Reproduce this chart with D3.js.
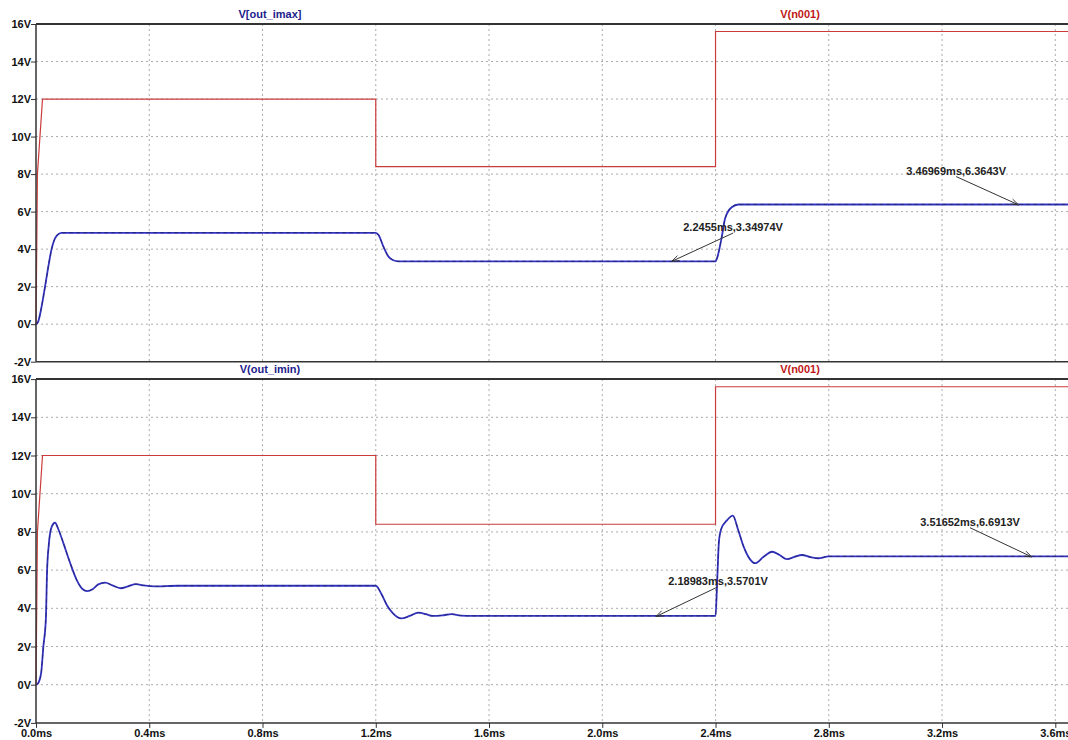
<!DOCTYPE html>
<html>
<head>
<meta charset="utf-8">
<script src="https://cdn.jsdelivr.net/npm/d3@7"></script>
<style>
  body { margin: 0; background: #fff; }
  svg { display: block; }
  text { font-family: "Liberation Sans", Arial, sans-serif; font-weight: bold; font-size: 11px; fill: #111; }
  .grid line { stroke: #ababab; stroke-width: 1; stroke-dasharray: 2,3; }
  .frame { stroke: #333; stroke-width: 1.5; }
  .trace-red { fill: none; stroke: #cc3b3b; stroke-width: 1.2; }
  .trace-blue { fill: none; stroke: #3434c4; stroke-width: 1.8; }
  .trace-blue-dark { fill: none; stroke: #1d1d55; stroke-width: 0.9; stroke-dasharray: 4,3; opacity: 0.7; }
  .ann-line { stroke: #333; stroke-width: 1; fill: none; }
</style>
</head>
<body>
<div class="chart"></div>
<script>
// ticks
let xTicks = [0.0, 0.4, 0.8, 1.2, 1.6, 2.0, 2.4, 2.8, 3.2, 3.6];
let xTickLabels = ["0.0ms", "0.4ms", "0.8ms", "1.2ms", "1.6ms", "2.0ms", "2.4ms", "2.8ms", "3.2ms", "3.6ms"];
let yTicks = [-2, 0, 2, 4, 6, 8, 10, 12, 14, 16];
let yTickLabels = ["-2V", "0V", "2V", "4V", "6V", "8V", "10V", "12V", "14V", "16V"];

// V(n001) - same source in both panes (time in ms, volts)
let n001T = [0, 0.005, 0.014, 0.023, 1.2, 1.2, 2.4, 2.4, 3.65];
let n001V = [0, 8.0, 10.0, 12.0, 12.0, 8.4, 8.4, 15.6, 15.6];

// V(out_imax)
let imaxT = [0, 0.008, 0.018, 0.032, 0.045, 0.055, 0.065, 0.075, 0.09, 1.2, 1.21, 1.227, 1.245, 1.26, 1.28,
             2.4, 2.405, 2.42, 2.434, 2.457, 2.481, 3.65];
let imaxV = [0, 0.15, 0.8, 2.0, 3.2, 4.0, 4.5, 4.75, 4.87, 4.87, 4.75, 4.13, 3.6, 3.42, 3.35,
             3.35, 3.5, 4.49, 5.64, 6.23, 6.38, 6.38];

// V(out_imin)
let iminT = [0, 0.006, 0.018, 0.026, 0.035, 0.039, 0.045, 0.055, 0.067, 0.08, 0.097, 0.12, 0.144, 0.165, 0.181,
             0.2, 0.22, 0.244, 0.27, 0.299, 0.325, 0.353, 0.38, 0.42, 0.5, 1.2,
             1.22, 1.24, 1.26, 1.29, 1.32, 1.35, 1.38, 1.4, 1.435, 1.468, 1.5, 1.55, 2.4,
             2.406, 2.412, 2.42, 2.44, 2.461, 2.48, 2.5, 2.52, 2.54, 2.57, 2.6, 2.625, 2.652, 2.68, 2.705,
             2.735, 2.763, 2.8, 3.65];
let iminV = [0, 0.05, 0.6, 2.0, 3.5, 5.9, 7.3, 8.25, 8.48, 8.1, 7.4, 6.4, 5.48, 5.0, 4.9,
             5.0, 5.25, 5.34, 5.2, 5.05, 5.15, 5.27, 5.2, 5.15, 5.18, 5.18,
             4.75, 4.15, 3.75, 3.47, 3.6, 3.77, 3.68, 3.6, 3.63, 3.7, 3.62, 3.6, 3.6,
             5.5, 7.5, 8.15, 8.6, 8.85, 8.1, 7.2, 6.6, 6.36, 6.7, 6.96, 6.8, 6.57, 6.7, 6.79,
             6.68, 6.62, 6.72, 6.72];

// cursor annotations: data point (ms, V) and label anchor (ms, V)
let annImax = [
  {t: 2.2455, v: 3.34974, lt: 2.462, lv: 4.91, text: "2.2455ms,3.34974V"},
  {t: 3.46969, v: 6.3643, lt: 3.250, lv: 7.92, text: "3.46969ms,6.3643V"}
];
let annImin = [
  {t: 2.18983, v: 3.5701, lt: 2.409, lv: 5.18, text: "2.18983ms,3.5701V"},
  {t: 3.51652, v: 6.6913, lt: 3.299, lv: 8.27, text: "3.51652ms,6.6913V"}
];

let width = 1068, height = 740;

let svg = d3.select(".chart")
  .append("svg")
  .attr("width", width)
  .attr("height", height);

let xScale = d3.scaleLinear().domain([0, 3.6]).range([36, 1055.3]);

function zip(ts, vs) {
  return ts.map((t, i) => ({t: t, v: vs[i]}));
}

function draw_pane(top, bottom, blueT, blueV, blueName, anns, showX) {
  let yScale = d3.scaleLinear().domain([-2, 16]).range([bottom, top]);
  let g = svg.append("g");

  // grid
  let grid = g.append("g").attr("class", "grid");
  grid.selectAll(".vg")
    .data(xTicks.slice(1))
    .enter().append("line")
    .attr("x1", d => xScale(d)).attr("x2", d => xScale(d))
    .attr("y1", top).attr("y2", bottom);
  grid.selectAll(".hg")
    .data(yTicks.slice(1, -1))
    .enter().append("line")
    .attr("x1", xScale(0)).attr("x2", width)
    .attr("y1", d => yScale(d)).attr("y2", d => yScale(d));

  // traces
  let lineRed = d3.line().x(d => xScale(d.t)).y(d => yScale(d.v));
  let lineBlue = d3.line().x(d => xScale(d.t)).y(d => yScale(d.v)).curve(d3.curveMonotoneX);

  g.append("path").attr("class", "trace-red").attr("d", lineRed(zip(n001T, n001V)));
  g.append("path").attr("class", "trace-blue").attr("d", lineBlue(zip(blueT, blueV)));
  g.append("path").attr("class", "trace-blue-dark").attr("d", lineBlue(zip(blueT, blueV)));

  // frame
  g.append("line").attr("class", "frame").style("stroke-width", 2)
    .attr("x1", xScale(0)).attr("x2", width).attr("y1", top).attr("y2", top);
  g.append("line").attr("class", "frame")
    .attr("x1", xScale(0)).attr("x2", width).attr("y1", bottom).attr("y2", bottom);
  g.append("line").attr("class", "frame")
    .attr("x1", xScale(0)).attr("x2", xScale(0)).attr("y1", top).attr("y2", bottom);

  // y axis
  let yAxis = d3.axisLeft(yScale)
    .tickValues(yTicks)
    .tickSize(5)
    .tickSizeOuter(0)
    .tickFormat((d, i) => yTickLabels[i]);
  let ya = g.append("g").attr("transform", `translate(${xScale(0)},0)`).call(yAxis);
  ya.select(".domain").remove();
  ya.selectAll(".tick line").attr("stroke", "#333");
  ya.selectAll(".tick text").attr("x", -5).attr("fill", "#111")
    .style("font-size", "11px").style("font-family", "Liberation Sans, Arial, sans-serif");

  // x axis
  if (showX) {
    let xAxis = d3.axisBottom(xScale)
      .tickValues(xTicks)
      .tickSize(5)
      .tickSizeOuter(0)
      .tickFormat((d, i) => xTickLabels[i]);
    let xa = g.append("g").attr("transform", `translate(0,${bottom})`).call(xAxis);
    xa.select(".domain").remove();
    xa.selectAll(".tick line").attr("stroke", "#333");
    xa.selectAll(".tick text").attr("y", 6).attr("fill", "#111")
      .style("font-size", "11px").style("font-family", "Liberation Sans, Arial, sans-serif");
  }

  // titles
  g.append("text")
    .attr("x", 270).attr("y", top - 6)
    .attr("text-anchor", "middle")
    .style("fill", "#1c1c8c")
    .text(blueName);
  g.append("text")
    .attr("x", 800).attr("y", top - 6)
    .attr("text-anchor", "middle")
    .style("fill", "#c01818")
    .text("V(n001)");

  // cursor annotations
  anns.forEach(a => {
    let px = xScale(a.t), py = yScale(a.v);
    let lx = xScale(a.lt), ly = yScale(a.lv);
    g.append("line").attr("class", "ann-line")
      .attr("x1", lx).attr("y1", ly + 1).attr("x2", px).attr("y2", py);
    let ang = Math.atan2(ly + 1 - py, lx - px);
    let head = 8, spread = 0.35;
    g.append("path").attr("class", "ann-line")
      .attr("d", `M${px + head * Math.cos(ang - spread)},${py + head * Math.sin(ang - spread)}` +
                 `L${px},${py}` +
                 `L${px + head * Math.cos(ang + spread)},${py + head * Math.sin(ang + spread)}`);
    g.append("text")
      .attr("x", lx).attr("y", ly - 1)
      .attr("text-anchor", "middle")
      .style("fill", "#222")
      .text(a.text);
  });
}

draw_pane(24, 361.7, imaxT, imaxV, "V[out_imax]", annImax, false);
draw_pane(379.1, 722.9, iminT, iminV, "V(out_imin)", annImin, true);
</script>
</body>
</html>
